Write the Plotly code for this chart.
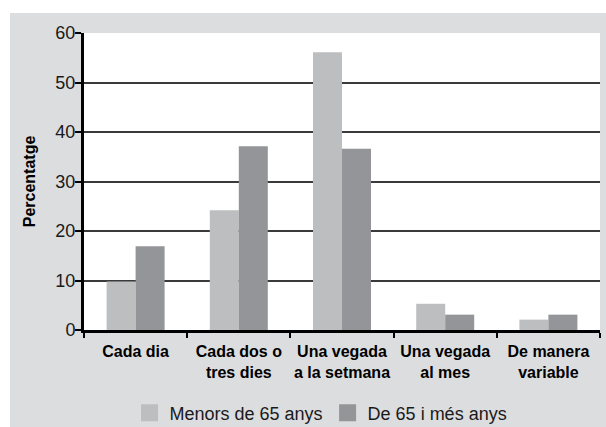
import plotly.graph_objects as go

categories = ["Cada dia", "Cada dos o<br>tres dies", "Una vegada<br>a la setmana",
              "Una vegada<br>al mes", "De manera<br>variable"]
series_names = ["Menors de 65 anys", "De 65 i més anys"]
menors_65 = [9.8, 24.2, 56.1, 5.3, 2.1]
mes_65 = [16.9, 37.1, 36.6, 3.1, 3.1]
y_ticks = [0, 10, 20, 30, 40, 50, 60]

LIGHT = "#bdbec0"
DARK = "#939598"
BG = "#dcdddf"

W, H = 606, 427
L, R, T, B = 84, 6, 33, 97
pw, ph = W - L - R, H - T - B

def px_x(p):
    return (p - L) / pw

def px_y(p):
    return (H - B - p) / ph

fig = go.Figure()
for name, vals, col in [(series_names[0], menors_65, LIGHT), (series_names[1], mes_65, DARK)]:
    fig.add_trace(go.Bar(x=categories, y=vals, name=name, showlegend=False,
                         marker=dict(color=col, line=dict(width=0))))
# legend entries on a hidden overlay axis so they don't take bar slots
for name, col in [(series_names[0], LIGHT), (series_names[1], DARK)]:
    fig.add_trace(go.Bar(x=[categories[0]], y=[None], name=name, xaxis="x2", yaxis="y2",
                         marker=dict(color=col, line=dict(color=col, width=5))))

fig.update_layout(
    width=W, height=H,
    margin=dict(l=L, r=R, t=T, b=B, pad=0, autoexpand=False),
    paper_bgcolor=BG,
    plot_bgcolor="white",
    barmode="group", bargap=0.438, bargroupgap=0,
    font=dict(family="Liberation Sans, Arial, sans-serif", color="#1a1a1a"),
    showlegend=True,
    legend=dict(orientation="h", x=px_x(321), xanchor="center", y=px_y(413), yanchor="middle",
                font=dict(size=18, color="#1a1a1a"), bgcolor="rgba(0,0,0,0)",
                traceorder="normal", itemwidth=30),
    xaxis2=dict(overlaying="x", visible=False),
    yaxis2=dict(overlaying="y", visible=False, range=[0, 60]),
    shapes=[
        dict(type="rect", xref="paper", yref="paper", x0=px_x(-5), x1=px_x(W + 5),
             y0=px_y(13), y1=px_y(-5), fillcolor="white", line=dict(width=0), layer="below"),
        dict(type="rect", xref="paper", yref="paper", x0=px_x(-5), x1=px_x(10),
             y0=px_y(H + 5), y1=px_y(-5), fillcolor="white", line=dict(width=0), layer="below"),
    ],
)
fig.update_layout(xaxis=dict(
    automargin=False, tickangle=0,
    showline=True, linecolor="black", linewidth=3,
    ticks="outside", tickson="boundaries", ticklen=5, tickwidth=2, tickcolor="black",
    tickfont=dict(size=16, family="Liberation Sans, Arial, sans-serif", color="black", weight="bold"),
    ticklabelstandoff=5,
    showgrid=False,
))
fig.update_layout(yaxis=dict(
    automargin=False,
    range=[0, 60], tickvals=y_ticks,
    showline=True, linecolor="black", linewidth=3,
    ticks="outside", ticklen=6, tickwidth=2, tickcolor="black",
    tickfont=dict(size=18, color="#1a1a1a"),
    ticklabelstandoff=-4,
    showgrid=True, gridcolor="#3a3a3a", gridwidth=2,
    zeroline=False,
    title=dict(text="<b>Percentatge</b>", font=dict(size=16, color="black"), standoff=16),
))

fig.write_html("out.html", config={"displayModeBar": False},
               post_script="document.body.style.margin='0';document.body.style.overflow='hidden';")
